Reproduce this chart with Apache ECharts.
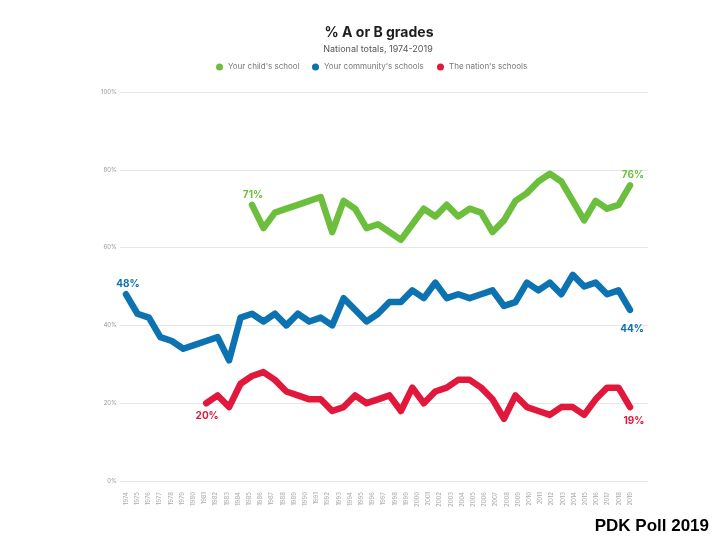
<!DOCTYPE html>
<html>
<head>
<meta charset="utf-8">
<script src="https://cdn.jsdelivr.net/npm/echarts@6/dist/echarts.min.js"></script>
<style>html,body{margin:0;padding:0;background:#fff;}#c{width:720px;height:540px;}</style>
</head>
<body>
<div id="c"></div>
<script>
// Tick labels shown under the chart (one per year)
const tickLabels = ['1974','1975','1976','1977','1978','1979','1980','1981','1982','1983','1984','1985','1986','1987','1988','1989','1990','1991','1992','1993','1994','1995','1996','1997','1998','1999','2000','2001','2002','2003','2004','2005','2006','2007','2008','2009','2010','2011','2012','2013','2014','2015','2016','2017','2018','2019'];
// Survey points plotted (45 evenly spaced points in the reference)
const dataYears = ['1974','1975','1976','1977','1978','1979','1980','1981','1982','1983','1984','1985','1986','1987','1988','1989','1990','1991','1992','1993','1994','1995','1996','1997','1998','1999','2000','2001','2002','2003','2004','2005','2006','2007','2008','2009','2010','2011','2012','2013','2014','2016','2017','2018','2019'];
// % A or B grades
const communitySchools = [48,43,42,37,36,34,35,36,37,31,42,43,41,43,40,43,41,42,40,47,44,41,43,46,46,49,47,51,47,48,47,48,49,45,46,51,49,51,48,53,50,51,48,49,44];
const childSchool = [71,65,69,70,71,72,73,64,72,70,65,66,64,62,66,70,68,71,68,70,69,64,67,72,74,77,79,77,72,67,72,70,71,76]; // from 1985
const nationSchools = [20,22,19,25,27,28,26,23,22,21,21,18,19,22,20,21,22,18,24,20,23,24,26,26,24,21,16,22,19,18,17,19,19,17,21,24,24,19]; // from 1981
const seriesNames = ["Your child's school", "Your community's schools", "The nation's schools"];
const colors = ['#6cbf3c', '#0d72b2', '#e2173c'];

const FONT = 'Inter, Lato, sans-serif';

function build(values, color, startPos, startOff, endPos, endOff, startDist, endDist) {
  const pad = dataYears.length - values.length;
  const out = [];
  for (let i = 0; i < pad; i++) out.push('-');
  values.forEach((v, i) => {
    const isFirst = i === 0, isLast = i === values.length - 1;
    if (isFirst || isLast) {
      out.push({
        value: v,
        label: {
          show: true,
          position: isFirst ? startPos : endPos,
          distance: isFirst ? startDist : endDist,
          offset: isFirst ? startOff : endOff,
          formatter: '{c}%',
          color: color,
          fontSize: 10,
          fontWeight: 'bold',
          fontFamily: FONT
        }
      });
    } else {
      out.push(v);
    }
  });
  return out;
}

function lineSeries(name, data, color) {
  return {
    name: name,
    type: 'line',
    xAxisIndex: 1,
    yAxisIndex: 0,
    data: data,
    symbol: 'circle',
    symbolSize: 0,
    showSymbol: true,
    showAllSymbol: true,
    connectNulls: false,
    itemStyle: { color: color },
    lineStyle: { color: color, width: 6.5, cap: 'round', join: 'round' },
    emphasis: { disabled: true },
    silent: true,
    animation: false
  };
}

const legendText = { fontSize: 8, color: '#777', fontFamily: FONT };

const chart = echarts.init(document.getElementById('c'), null, { renderer: 'canvas' });
chart.setOption({
  backgroundColor: '#ffffff',
  animation: false,
  title: [
    { text: '% A or B grades', left: 374, top: 21, textAlign: 'center',
      textStyle: { fontSize: 14, fontWeight: 'bold', color: '#1e1e1e', fontFamily: FONT } },
    { text: 'National totals, 1974-2019', left: 373, top: 40, textAlign: 'center',
      textStyle: { fontSize: 9, fontWeight: 'normal', color: '#555', fontFamily: FONT } },
    { text: 'PDK Poll 2019', right: 6, top: 513,
      textStyle: { fontSize: 17, fontWeight: 'bold', color: '#000', fontFamily: 'Liberation Sans, Arial, sans-serif' } }
  ],
  legend: [
    { data: [seriesNames[0]], left: 216, top: 63, icon: 'circle', itemWidth: 7, itemHeight: 7, padding: 0, textStyle: legendText },
    { data: [seriesNames[1]], left: 312, top: 63, icon: 'circle', itemWidth: 7, itemHeight: 7, padding: 0, textStyle: legendText },
    { data: [seriesNames[2]], left: 437, top: 63, icon: 'circle', itemWidth: 7, itemHeight: 7, padding: 0, textStyle: legendText }
  ],
  grid: [
    { left: 126, right: 90, top: 92, bottom: 59 },
    { left: 120, right: 72, top: 92, bottom: 59 }
  ],
  xAxis: [
    { type: 'category', gridIndex: 0, data: tickLabels, boundaryGap: false,
      axisLine: { show: false }, axisTick: { show: false }, splitLine: { show: false },
      axisLabel: { rotate: 90, interval: 0, fontSize: 6, color: '#a8a8a8', margin: 11, fontFamily: FONT } },
    { type: 'category', gridIndex: 0, data: dataYears, boundaryGap: false, show: false },
    { type: 'value', gridIndex: 1, show: false }
  ],
  yAxis: [
    { type: 'value', gridIndex: 0, min: 0, max: 100, interval: 20, show: false },
    { type: 'value', gridIndex: 1, min: 0, max: 100, interval: 20,
      axisLine: { show: false }, axisTick: { show: false },
      splitLine: { lineStyle: { color: '#e6e6e6', width: 1 } },
      axisLabel: { formatter: '{value}%', fontSize: 6, color: '#999', margin: 3, fontFamily: FONT } }
  ],
  series: [
    lineSeries(seriesNames[0], build(childSchool, colors[0], 'top', [1, 0], 'top', [3, 0], 5, 5), colors[0]),
    lineSeries(seriesNames[1], build(communitySchools, colors[1], 'top', [2, 0], 'bottom', [2, 0], 5, 14), colors[1]),
    lineSeries(seriesNames[2], build(nationSchools, colors[2], 'bottom', [1, 0], 'bottom', [4, 0], 8, 9), colors[2])
  ]
});
</script>
</body>
</html>
